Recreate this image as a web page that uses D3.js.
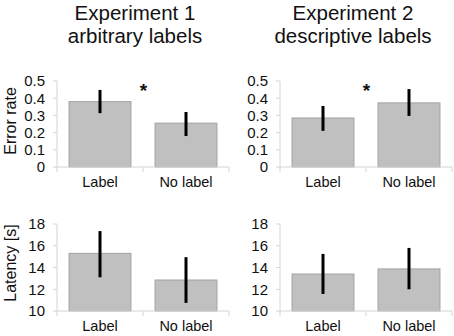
<!DOCTYPE html>
<html><head><meta charset="utf-8">
<script src="https://cdn.jsdelivr.net/npm/d3@7"></script>
<style>body{margin:0;background:#fff}svg{display:block}text{font-family:"Liberation Sans",Arial,sans-serif;fill:#111}</style>
</head><body><svg id="c" width="454" height="336"></svg>
<script>
const categories = ["Label", "No label"];
const titles = [["Experiment 1", "arbitrary labels"], ["Experiment 2", "descriptive labels"]];
const errorRate = [0.38, 0.255];           // Exp 1
const errorRateErr = [[0.313, 0.448], [0.18, 0.32]];
const errorRate2 = [0.285, 0.373];          // Exp 2
const errorRate2Err = [[0.21, 0.355], [0.297, 0.453]];
const latency = [15.3, 12.85];
const latencyErr = [[13.1, 17.35], [10.75, 14.95]];
const latency2 = [13.4, 13.87];
const latency2Err = [[11.57, 15.25], [12.0, 15.8]];
const errTicks = [0, 0.1, 0.2, 0.3, 0.4, 0.5];
const latTicks = [10, 12, 14, 16, 18];

const svg = d3.select("#c");
const panels = [
  {x0: 57, x1: 229, y0: 167, y1: 81, dom: [0, 0.5], ticks: errTicks, fmt: d => d === 0 ? "0" : d3.format(".1f")(d), vals: errorRate, err: errorRateErr, star: true},
  {x0: 280, x1: 452, y0: 167, y1: 81, dom: [0, 0.5], ticks: errTicks, fmt: d => d === 0 ? "0" : d3.format(".1f")(d), vals: errorRate2, err: errorRate2Err, star: true},
  {x0: 57, x1: 229, y0: 311, y1: 224, dom: [10, 18], ticks: latTicks, fmt: d3.format("d"), vals: latency, err: latencyErr},
  {x0: 280, x1: 452, y0: 311, y1: 224, dom: [10, 18], ticks: latTicks, fmt: d3.format("d"), vals: latency2, err: latency2Err}
];
const axisCol = "#d4d4d4";
panels.forEach(p => {
  const g = svg.append("g");
  const x = d3.scaleBand().domain(categories).range([p.x0, p.x1]);
  const y = d3.scaleLinear().domain(p.dom).range([p.y0, p.y1]);
  const bw = x.bandwidth() * 0.72;
  g.selectAll("rect").data(categories).join("rect")
    .attr("x", d => x(d) + (x.bandwidth() - bw) / 2)
    .attr("y", (d, i) => y(p.vals[i]))
    .attr("width", bw)
    .attr("height", (d, i) => y(p.dom[0]) - y(p.vals[i]))
    .attr("fill", "#c0c0c0").attr("stroke", "#a3a3a3").attr("stroke-width", 1);
  g.append("line").attr("x1", p.x0).attr("x2", p.x0).attr("y1", y(p.dom[0])).attr("y2", y(p.dom[1])).attr("stroke", axisCol);
  g.selectAll(".yt").data(p.ticks).join("line")
    .attr("x1", p.x0 - 4).attr("x2", p.x0).attr("y1", d => y(d)).attr("y2", d => y(d)).attr("stroke", axisCol);
  g.selectAll(".yl").data(p.ticks).join("text")
    .attr("x", p.x0 - 12).attr("y", d => y(d)).attr("dy", "0.36em")
    .attr("text-anchor", "end").attr("font-size", 15).text(p.fmt);
  g.append("line").attr("x1", p.x0).attr("x2", p.x1).attr("y1", y(p.dom[0])).attr("y2", y(p.dom[0])).attr("stroke", axisCol);
  const xt = [p.x0, p.x0 + x.bandwidth(), p.x1];
  g.selectAll(".xt").data(xt).join("line")
    .attr("x1", d => d).attr("x2", d => d).attr("y1", y(p.dom[0])).attr("y2", y(p.dom[0]) + 5).attr("stroke", axisCol);
  g.selectAll(".xl").data(categories).join("text")
    .attr("x", d => x(d) + x.bandwidth() / 2).attr("y", y(p.dom[0]) + 20)
    .attr("text-anchor", "middle").attr("font-size", 14.5).text(d => d);
  g.selectAll(".eb").data(categories).join("line")
    .attr("x1", d => x(d) + x.bandwidth() / 2).attr("x2", d => x(d) + x.bandwidth() / 2)
    .attr("y1", (d, i) => y(p.err[i][0])).attr("y2", (d, i) => y(p.err[i][1]))
    .attr("stroke", "#000").attr("stroke-width", 3);
  if (p.star) {
    g.append("text").attr("x", p.x0 + x.bandwidth() + 0.5).attr("y", y(0.5) + 16)
      .attr("text-anchor", "middle").attr("font-size", 19).attr("font-weight", "bold").text("*");
  }
});
[135, 353].forEach((cx, i) => {
  svg.append("text").attr("x", cx).attr("y", 20).attr("text-anchor", "middle").attr("font-size", 20.5).text(titles[i][0]);
  svg.append("text").attr("x", cx).attr("y", 43).attr("text-anchor", "middle").attr("font-size", 20.5).text(titles[i][1]);
});
svg.append("text").attr("transform", "translate(16,121) rotate(-90)").attr("text-anchor", "middle").attr("font-size", 16).text("Error rate");
svg.append("text").attr("transform", "translate(16,263) rotate(-90)").attr("text-anchor", "middle").attr("font-size", 16).text("Latency [s]");
</script></body></html>
